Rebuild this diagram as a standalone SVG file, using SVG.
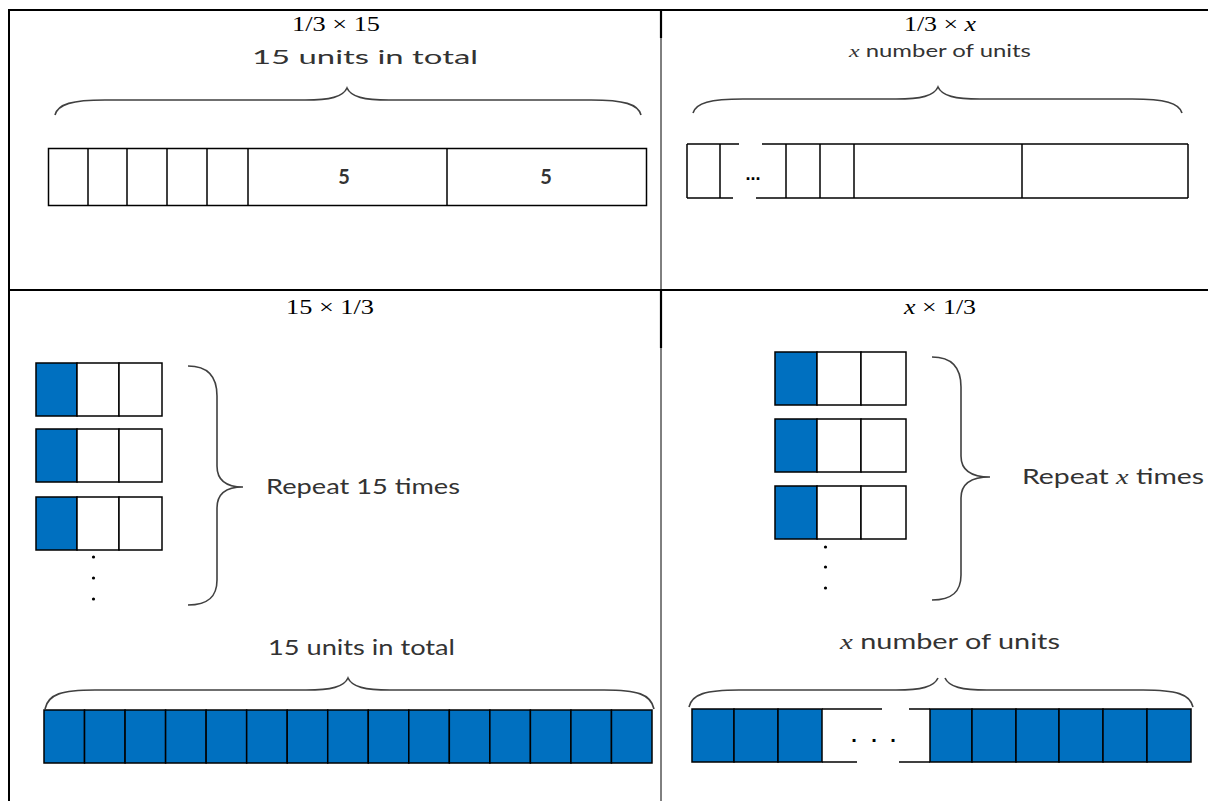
<svg xmlns="http://www.w3.org/2000/svg" width="1208" height="801" viewBox="0 0 1208 801">
<style>
.frame{stroke:#000;fill:none}
.cell{stroke:#000;stroke-width:1.5;fill:#fff}
.blue{stroke:#000;stroke-width:1.5;fill:#0070C0}
.ln{stroke:#000;stroke-width:1.5;fill:none}
.brace{stroke:#404040;stroke-width:1.6;fill:none}
.math{font-family:"Liberation Serif","DejaVu Serif",serif;font-size:20px;fill:#000;text-anchor:middle}
.lbl{font-family:Lato,"Open Sans","Liberation Sans",sans-serif;fill:#333}
.dot{fill:#000}
</style>
<rect width="1208" height="801" fill="#fff"/>
<g id="table">
<line class="frame" x1="8" y1="10" x2="1208" y2="10" stroke-width="2"/>
<line class="frame" x1="9" y1="9" x2="9" y2="801" stroke-width="2"/>
<line class="frame" x1="8" y1="290" x2="1208" y2="290" stroke-width="2"/>
<line class="frame" x1="661" y1="10" x2="661" y2="38" stroke-width="2.2"/>
<line class="frame" x1="661" y1="38" x2="661" y2="290" stroke-width="1"/>
<line class="frame" x1="661" y1="290" x2="661" y2="348" stroke-width="2.2"/>
<line class="frame" x1="661" y1="348" x2="661" y2="801" stroke-width="1"/>
</g>
<g id="q1">
<text class="math" x="336" y="31" textLength="88" lengthAdjust="spacingAndGlyphs">1/3 × 15</text>
<text class="lbl" x="252" y="64" font-size="20" textLength="226" lengthAdjust="spacingAndGlyphs">15 units in total</text>
<path class="brace" d="M55,115 C58,104 72,100 105,100 L305,100 C330,100 343,97 347,88 C351,97 364,100 389,100 L591,100 C624,100 638,104 641,115"/>
<rect class="cell" x="48.5" y="148.5" width="598" height="57"/>
<g class="ln">
<line x1="88" y1="148.5" x2="88" y2="205.5"/>
<line x1="127" y1="148.5" x2="127" y2="205.5"/>
<line x1="167" y1="148.5" x2="167" y2="205.5"/>
<line x1="207" y1="148.5" x2="207" y2="205.5"/>
<line x1="248" y1="148.5" x2="248" y2="205.5"/>
<line x1="447" y1="148.5" x2="447" y2="205.5"/>
</g>
<text class="lbl" x="344" y="184" font-size="20" font-weight="bold" text-anchor="middle">5</text>
<text class="lbl" x="546" y="184" font-size="20" font-weight="bold" text-anchor="middle">5</text>
</g>
<g id="q2">
<text class="math" x="940" y="31" textLength="72" lengthAdjust="spacingAndGlyphs">1/3 × <tspan font-style="italic">x</tspan></text>
<text class="lbl" x="849" y="57" font-size="17" textLength="182" lengthAdjust="spacingAndGlyphs"><tspan font-family="Liberation Serif,serif" font-style="italic">x</tspan> number of units</text>
<path class="brace" d="M693,113 C696,103 710,99 743,99 L896,99 C921,99 934,96 938,87 C942,96 955,99 980,99 L1132,99 C1165,99 1179,103 1182,113"/>
<g class="ln">
<line x1="687" y1="144" x2="739" y2="144"/>
<line x1="762" y1="144" x2="1188" y2="144"/>
<line x1="687" y1="198" x2="733" y2="198"/>
<line x1="756" y1="198" x2="1188" y2="198"/>
<line x1="687" y1="144" x2="687" y2="198"/>
<line x1="720" y1="144" x2="720" y2="198"/>
<line x1="786" y1="144" x2="786" y2="198"/>
<line x1="820" y1="144" x2="820" y2="198"/>
<line x1="854" y1="144" x2="854" y2="198"/>
<line x1="1022" y1="144" x2="1022" y2="198"/>
<line x1="1188" y1="144" x2="1188" y2="198"/>
</g>
<text x="753" y="180" font-family="Liberation Sans,sans-serif" font-size="18" font-weight="bold" text-anchor="middle" fill="#000">...</text>
</g>
<g id="q3">
<text class="math" x="330" y="314" textLength="88" lengthAdjust="spacingAndGlyphs">15 × 1/3</text>
<g id="q3-unit1">
<rect class="blue" x="36" y="363" width="41" height="53"/>
<rect class="cell" x="77" y="363" width="42" height="53"/>
<rect class="cell" x="119" y="363" width="43" height="53"/>
</g>
<g id="q3-unit2">
<rect class="blue" x="36" y="429" width="41" height="53"/>
<rect class="cell" x="77" y="429" width="42" height="53"/>
<rect class="cell" x="119" y="429" width="43" height="53"/>
</g>
<g id="q3-unit3">
<rect class="blue" x="36" y="497" width="41" height="53"/>
<rect class="cell" x="77" y="497" width="42" height="53"/>
<rect class="cell" x="119" y="497" width="43" height="53"/>
</g>
<circle class="dot" cx="93.5" cy="557" r="1.6"/>
<circle class="dot" cx="93.5" cy="578" r="1.6"/>
<circle class="dot" cx="93.5" cy="599" r="1.6"/>
<path class="brace" d="M188,366 C208,366 217,376 217,396 L217,466 C217,480 226,487 243,487 C226,487 217,494 217,508 L217,580 C217,597 208,605 188,605"/>
<text class="lbl" x="266" y="494" font-size="21" textLength="194" lengthAdjust="spacingAndGlyphs">Repeat 15 times</text>
<text class="lbl" x="268" y="655" font-size="21" textLength="187" lengthAdjust="spacingAndGlyphs">15 units in total</text>
<path class="brace" d="M45,709 C48,694 62,690 95,690 L306,690 C331,690 344,687 348,678 C352,687 365,690 390,690 L604,690 C637,690 651,694 654,709"/>
<g id="q3-tape">
<rect class="blue" x="44" y="710" width="40.53" height="53"/>
<rect class="blue" x="84.53" y="710" width="40.53" height="53"/>
<rect class="blue" x="125.07" y="710" width="40.53" height="53"/>
<rect class="blue" x="165.6" y="710" width="40.53" height="53"/>
<rect class="blue" x="206.13" y="710" width="40.53" height="53"/>
<rect class="blue" x="246.67" y="710" width="40.53" height="53"/>
<rect class="blue" x="287.2" y="710" width="40.53" height="53"/>
<rect class="blue" x="327.73" y="710" width="40.53" height="53"/>
<rect class="blue" x="368.27" y="710" width="40.53" height="53"/>
<rect class="blue" x="408.8" y="710" width="40.53" height="53"/>
<rect class="blue" x="449.33" y="710" width="40.53" height="53"/>
<rect class="blue" x="489.87" y="710" width="40.53" height="53"/>
<rect class="blue" x="530.4" y="710" width="40.53" height="53"/>
<rect class="blue" x="570.93" y="710" width="40.53" height="53"/>
<rect class="blue" x="611.47" y="710" width="40.53" height="53"/>
</g>
</g>
<g id="q4">
<text class="math" x="940" y="314" textLength="72" lengthAdjust="spacingAndGlyphs"><tspan font-style="italic">x</tspan> × 1/3</text>
<g id="q4-unit1">
<rect class="blue" x="775" y="352" width="42" height="53"/>
<rect class="cell" x="817" y="352" width="44" height="53"/>
<rect class="cell" x="861" y="352" width="45" height="53"/>
</g>
<g id="q4-unit2">
<rect class="blue" x="775" y="419" width="42" height="53"/>
<rect class="cell" x="817" y="419" width="44" height="53"/>
<rect class="cell" x="861" y="419" width="45" height="53"/>
</g>
<g id="q4-unit3">
<rect class="blue" x="775" y="486" width="42" height="53"/>
<rect class="cell" x="817" y="486" width="44" height="53"/>
<rect class="cell" x="861" y="486" width="45" height="53"/>
</g>
<circle class="dot" cx="825.5" cy="547" r="1.6"/>
<circle class="dot" cx="825.5" cy="567" r="1.6"/>
<circle class="dot" cx="825.5" cy="588" r="1.6"/>
<path class="brace" d="M932,357 C952,357 961,367 961,387 L961,456 C961,470 970,477 990,477 C970,477 961,484 961,498 L961,575 C961,592 952,600 932,600"/>
<text class="lbl" x="1022" y="484" font-size="22" textLength="182" lengthAdjust="spacingAndGlyphs">Repeat <tspan font-family="Liberation Serif,serif" font-style="italic">x</tspan> times</text>
<text class="lbl" x="840" y="649" font-size="22" textLength="220" lengthAdjust="spacingAndGlyphs"><tspan font-family="Liberation Serif,serif" font-style="italic">x</tspan> number of units</text>
<path class="brace" d="M689,707 C692,694 706,690 739,690 L896,690 C921,690 934,687 938,678"/>
<path class="brace" d="M945,678 C949,687 962,690 987,690 L1143,690 C1176,690 1190,694 1193,707"/>
<g id="q4-tape">
<rect class="blue" x="692" y="709" width="42" height="53"/>
<rect class="blue" x="734" y="709" width="44" height="53"/>
<rect class="blue" x="778" y="709" width="44" height="53"/>
<line class="ln" x1="822" y1="709" x2="882" y2="709"/>
<line class="ln" x1="909" y1="709" x2="930" y2="709"/>
<line class="ln" x1="822" y1="762" x2="857" y2="762"/>
<line class="ln" x1="899" y1="762" x2="930" y2="762"/>
<rect class="blue" x="930" y="709" width="42" height="53"/>
<rect class="blue" x="972" y="709" width="44" height="53"/>
<rect class="blue" x="1016" y="709" width="43" height="53"/>
<rect class="blue" x="1059" y="709" width="44" height="53"/>
<rect class="blue" x="1103" y="709" width="44" height="53"/>
<rect class="blue" x="1147" y="709" width="44" height="53"/>
</g>
<text x="854 874 893" y="742" font-family="Liberation Sans,sans-serif" font-size="20" font-weight="bold" text-anchor="middle" fill="#000">...</text>
</g>
</svg>
